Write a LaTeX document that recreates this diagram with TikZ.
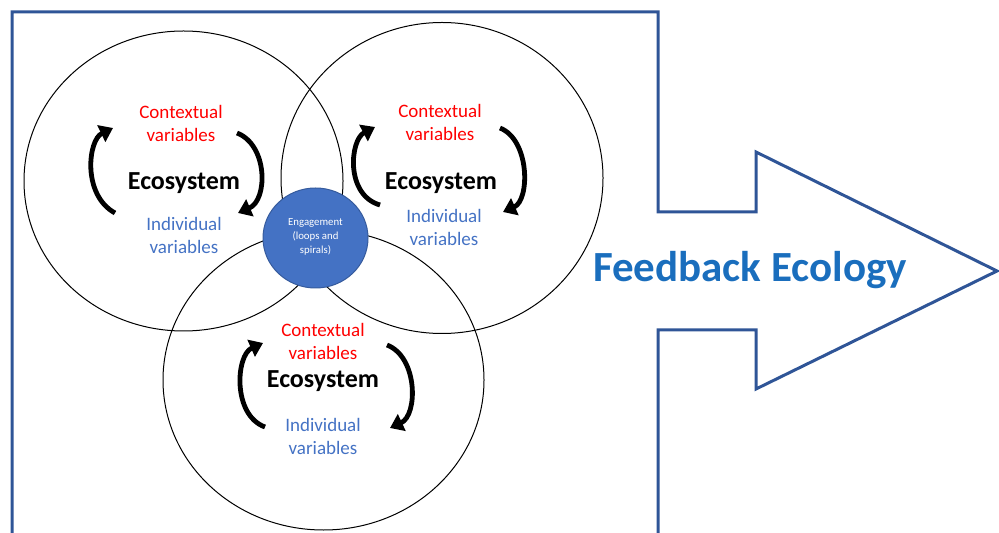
\documentclass[tikz,border=0pt]{standalone}
\usepackage{fontspec}
\setmainfont{Carlito}
\usetikzlibrary{arrows.meta, shapes.geometric}

\definecolor{framecol}{HTML}{2F5597}
\definecolor{ctxred}{HTML}{FF0000}
\definecolor{indblue}{HTML}{4472C4}
\definecolor{fbblue}{HTML}{1A6EBD}

\tikzset{
    eco/.style={ellipse, draw, line width=0.5pt, inner sep=0pt, outer sep=0pt},
    ctx/.style={text=ctxred, align=center, font=\fontsize{9.5}{11.5}\selectfont},
    ind/.style={text=indblue, align=center, font=\fontsize{9.5}{11.5}\selectfont},
    ecolabel/.style={font=\bfseries\fontsize{13}{15}\selectfont},
    cyclearrow/.style={line width=2.4pt, -{Triangle[length=6.5pt,width=9pt]}},
}

\begin{document}
\begin{tikzpicture}[x=0.5pt,y=-0.5pt]
    \useasboundingbox (0,0) rectangle (999,533);

    % frame running into the big arrow
    \draw[framecol, line width=1.5pt, line join=miter]
        (12,540) -- (12,12) -- (658,12) -- (658,212) -- (756,212) -- (756,152)
        -- (997,271) -- (756,389) -- (756,330) -- (658,330) -- (658,540);
    \node at (750,270) (FB) {\textcolor{fbblue}{\bfseries\fontsize{21.5}{26}\selectfont Feedback Ecology}};

    % the three ecosystems
    \node[eco, minimum width=159.5pt, minimum height=150pt] at (183.5,181) (E1) {};
    \node[eco, minimum width=161pt, minimum height=155.5pt] at (442,178) (E2) {};
    \node[eco, minimum width=160.5pt, minimum height=150pt] at (323.5,380) (E3) {};

    \node[ellipse, fill=indblue, draw=indblue!80!black, line width=0.5pt,
          minimum width=52.5pt, minimum height=50pt, inner sep=0pt] at (315.5,238) (Eng) {};
    \node[text=white, align=center, font=\fontsize{5.4}{6.8}\selectfont] at (315.5,237) (EngText)
          {Engagement\\(loops and\\spirals)};

    % top left
    \node[ctx] at (181,123) (C1) {Contextual\\variables};
    \node[ecolabel] at (184,183) (S1) {Ecosystem};
    \node[ind] at (184,235) (I1) {Individual\\variables};
    \coordinate (a1) at (115,213);
    \coordinate (b1) at (113,128);
    \coordinate (c1) at (237,133);
    \coordinate (d1) at (238,213);
    \draw[cyclearrow] (a1) .. controls (82,195) and (88,140) .. (b1);
    \draw[cyclearrow] (c1) .. controls (268,145) and (268,200) .. (d1);

    % top right
    \node[ctx] at (440,122) (C2) {Contextual\\variables};
    \node[ecolabel] at (441,183) (S2) {Ecosystem};
    \node[ind] at (444,227) (I2) {Individual\\variables};
    \coordinate (a2) at (380,205);
    \coordinate (b2) at (375,127);
    \coordinate (c2) at (500,128);
    \coordinate (d2) at (503,212);
    \draw[cyclearrow] (a2) .. controls (345,195) and (350,140) .. (b2);
    \draw[cyclearrow] (c2) .. controls (530,140) and (530,200) .. (d2);

    % bottom
    \node[ctx] at (323,341) (C3) {Contextual\\variables};
    \node[ecolabel] at (323,381) (S3) {Ecosystem};
    \node[ind] at (323,436) (I3) {Individual\\variables};
    \coordinate (a3) at (265,427);
    \coordinate (b3) at (263,343);
    \coordinate (c3) at (387,345);
    \coordinate (d3) at (390,428);
    \draw[cyclearrow] (a3) .. controls (232,415) and (236,355) .. (b3);
    \draw[cyclearrow] (c3) .. controls (418,357) and (418,415) .. (d3);
\end{tikzpicture}
\end{document}
